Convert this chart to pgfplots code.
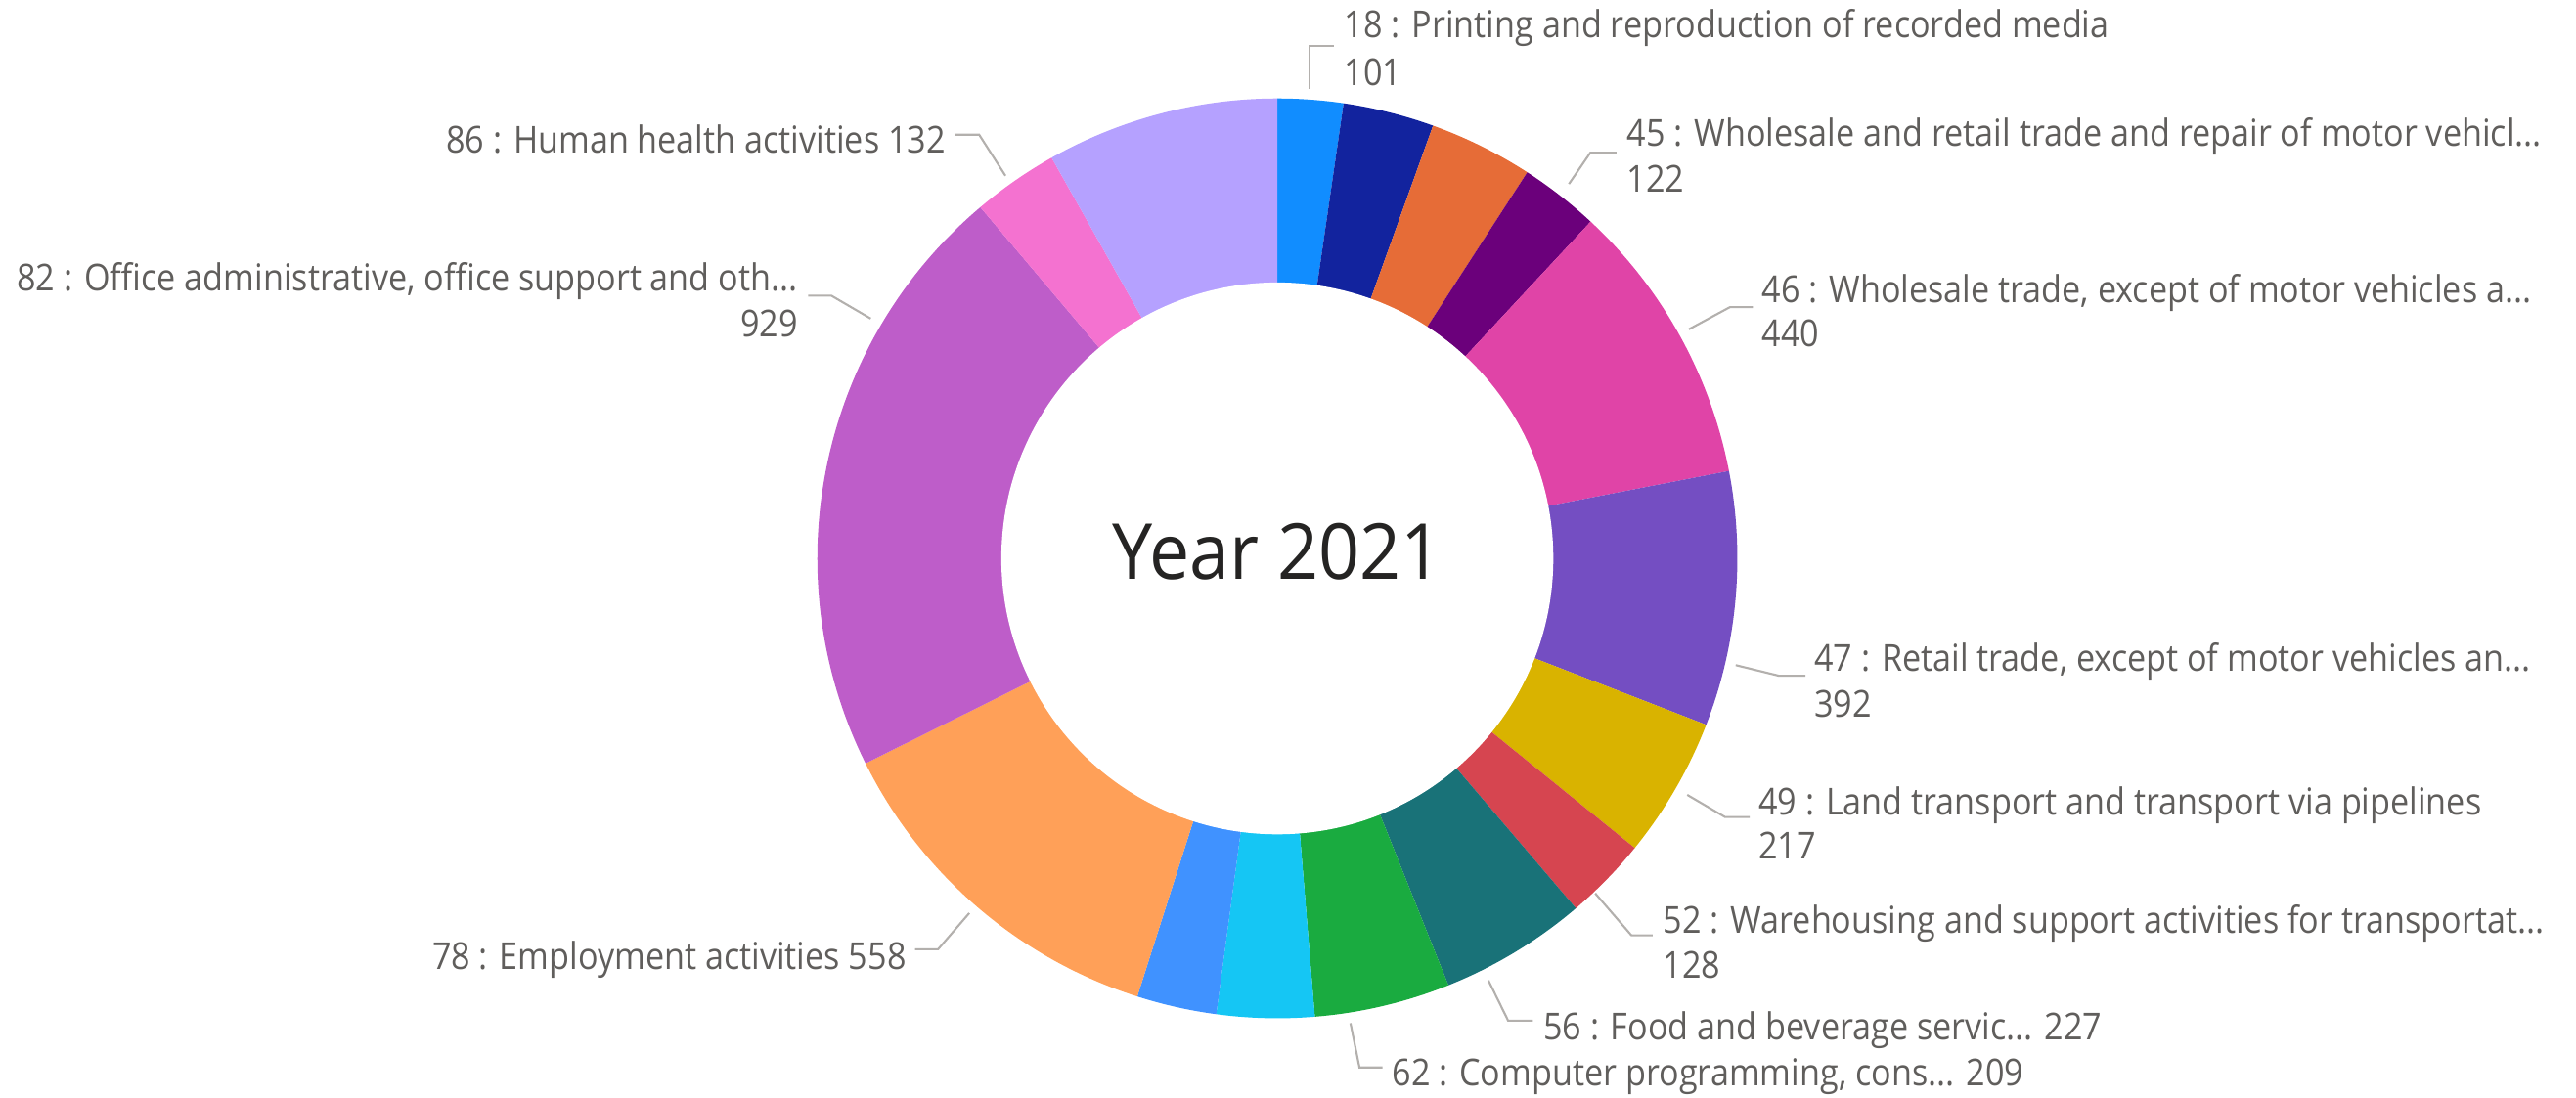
\documentclass[border=0pt]{standalone}
\usepackage{fontspec}
\setmainfont{Open Sans}
\newfontfamily\lblfont[FakeStretch=0.9]{Open Sans}
\newfontfamily\ctrfont[FakeStretch=0.93]{Open Sans}
\usepackage{pgfplots}
\pgfplotsset{compat=1.18}
\usepackage{pgfplotstable}

% Power BI default palette
\definecolor{pb01}{HTML}{118DFF}
\definecolor{pb02}{HTML}{12239E}
\definecolor{pb03}{HTML}{E66C37}
\definecolor{pb04}{HTML}{6B007B}
\definecolor{pb05}{HTML}{E044A7}
\definecolor{pb06}{HTML}{744EC2}
\definecolor{pb07}{HTML}{D9B300}
\definecolor{pb08}{HTML}{D64550}
\definecolor{pb09}{HTML}{197278}
\definecolor{pb10}{HTML}{1AAB40}
\definecolor{pb11}{HTML}{15C6F4}
\definecolor{pb12}{HTML}{4092FF}
\definecolor{pb13}{HTML}{FFA058}
\definecolor{pb14}{HTML}{BE5DC9}
\definecolor{pb15}{HTML}{F472D0}
\definecolor{pb16}{HTML}{B5A1FF}
\definecolor{lbltext}{HTML}{605E5C}
\definecolor{leader}{HTML}{B3B0AD}
\definecolor{ctrtext}{HTML}{252423}

% slices clockwise from 12 o'clock
\pgfplotstableread{
code value col
18 101 pb01
19 140 pb02
20 160 pb03
45 122 pb04
46 440 pb05
47 392 pb06
49 217 pb07
52 128 pb08
56 227 pb09
62 209 pb10
63 150 pb11
70 123 pb12
78 558 pb13
82 929 pb14
86 132 pb15
88 358 pb16
}\donutdata

\newcommand{\Rout}{4.7036cm}
\newcommand{\Rin}{2.822cm}

\begin{document}
\begin{tikzpicture}
\begin{axis}[
  width=26.34cm, height=11.22cm, scale only axis,
  xmin=0, xmax=1568, ymin=0, ymax=668, y dir=reverse,
  hide axis, clip=false,
]
\pgfplotsextra{
  \coordinate (C) at (axis cs:777.5,340);
  \pgfplotstablegetrowsof{\donutdata}
  \pgfmathtruncatemacro{\nlast}{\pgfplotsretval-1}
  \xdef\tot{0}
  \foreach \i in {0,...,\nlast}{
    \pgfplotstablegetelem{\i}{value}\of\donutdata
    \pgfmathsetmacro{\tmp}{\tot+\pgfplotsretval}\xdef\tot{\tmp}
  }
  \xdef\cum{0}
  \foreach \i in {0,...,\nlast}{
    \pgfplotstablegetelem{\i}{value}\of\donutdata \let\val\pgfplotsretval
    \pgfplotstablegetelem{\i}{col}\of\donutdata \let\slicecol\pgfplotsretval
    \pgfmathsetmacro{\aA}{90-360*(\cum/\tot)}
    \pgfmathsetmacro{\aB}{90-360*((\cum+\val)/\tot)}
    \fill[\slicecol] (C) -- ++(\aA:\Rout) arc[start angle=\aA, end angle=\aB, radius=\Rout] -- cycle;
    \pgfmathsetmacro{\tmp}{\cum+\val}\xdef\cum{\tmp}
  }
  \fill[white] (C) circle[radius=\Rin];
}

\node[font=\ctrfont\fontsize{22.5}{25}\selectfont, text=ctrtext] at (axis cs:777.5,336) {Year 2021};

% leader lines
\begin{scope}[leader, line width=0.6pt]
\draw (axis cs:797,54) -- (axis cs:797,28) -- (axis cs:812,28);
\draw (axis cs:955,112) -- (axis cs:968,93) -- (axis cs:984,93);
\draw (axis cs:1028,200.5) -- (axis cs:1053,187) -- (axis cs:1067,187);
\draw (axis cs:1056.5,405) -- (axis cs:1083,411.5) -- (axis cs:1099,411.5);
\draw (axis cs:1027,484) -- (axis cs:1050,497.5) -- (axis cs:1065,497.5);
\draw (axis cs:971,544) -- (axis cs:993,569.5) -- (axis cs:1006,569.5);
\draw (axis cs:906,597) -- (axis cs:918,621.5) -- (axis cs:933,621.5);
\draw (axis cs:822,623) -- (axis cs:827.5,650) -- (axis cs:841.5,650);
\draw (axis cs:590,556) -- (axis cs:571,578) -- (axis cs:557,578);
\draw (axis cs:530,194) -- (axis cs:506,180) -- (axis cs:492,180);
\draw (axis cs:612,107) -- (axis cs:596,82) -- (axis cs:581,82);
\end{scope}

% labels
\begin{scope}[every node/.style={font=\lblfont\fontsize{10.8}{13}\selectfont, text=lbltext, inner sep=0pt}]
\node[anchor=base west] at (axis cs:818,23) {18 : Printing and reproduction of recorded media};
\node[anchor=base west] at (axis cs:818,52) {101};
\node[anchor=base west] at (axis cs:990,89) {45 : Wholesale and retail trade and repair of motor vehicl...};
\node[anchor=base west] at (axis cs:990,117) {122};
\node[anchor=base west] at (axis cs:1072,184) {46 : Wholesale trade, except of motor vehicles a...};
\node[anchor=base west] at (axis cs:1072,211) {440};
\node[anchor=base west] at (axis cs:1104,408.7) {47 : Retail trade, except of motor vehicles an...};
\node[anchor=base west] at (axis cs:1104,436.5) {392};
\node[anchor=base west] at (axis cs:1070,496) {49 : Land transport and transport via pipelines};
\node[anchor=base west] at (axis cs:1070,523) {217};
\node[anchor=base west] at (axis cs:1012,568) {52 : Warehousing and support activities for transportat...};
\node[anchor=base west] at (axis cs:1012,595.5) {128};
\node[anchor=base west] at (axis cs:939,633) {56 : Food and beverage servic... 227};
\node[anchor=base west] at (axis cs:847,661) {62 : Computer programming, cons... 209};
\node[anchor=base east] at (axis cs:552,590) {78 : Employment activities 558};
\node[anchor=base east] at (axis cs:486,177) {82 : Office administrative, office support and oth...};
\node[anchor=base east] at (axis cs:486,205) {929};
\node[anchor=base east] at (axis cs:576,93) {86 : Human health activities 132};
\end{scope}
\end{axis}
\pgfresetboundingbox
\path (current axis.south west) rectangle (current axis.north east);
\end{tikzpicture}
\end{document}
